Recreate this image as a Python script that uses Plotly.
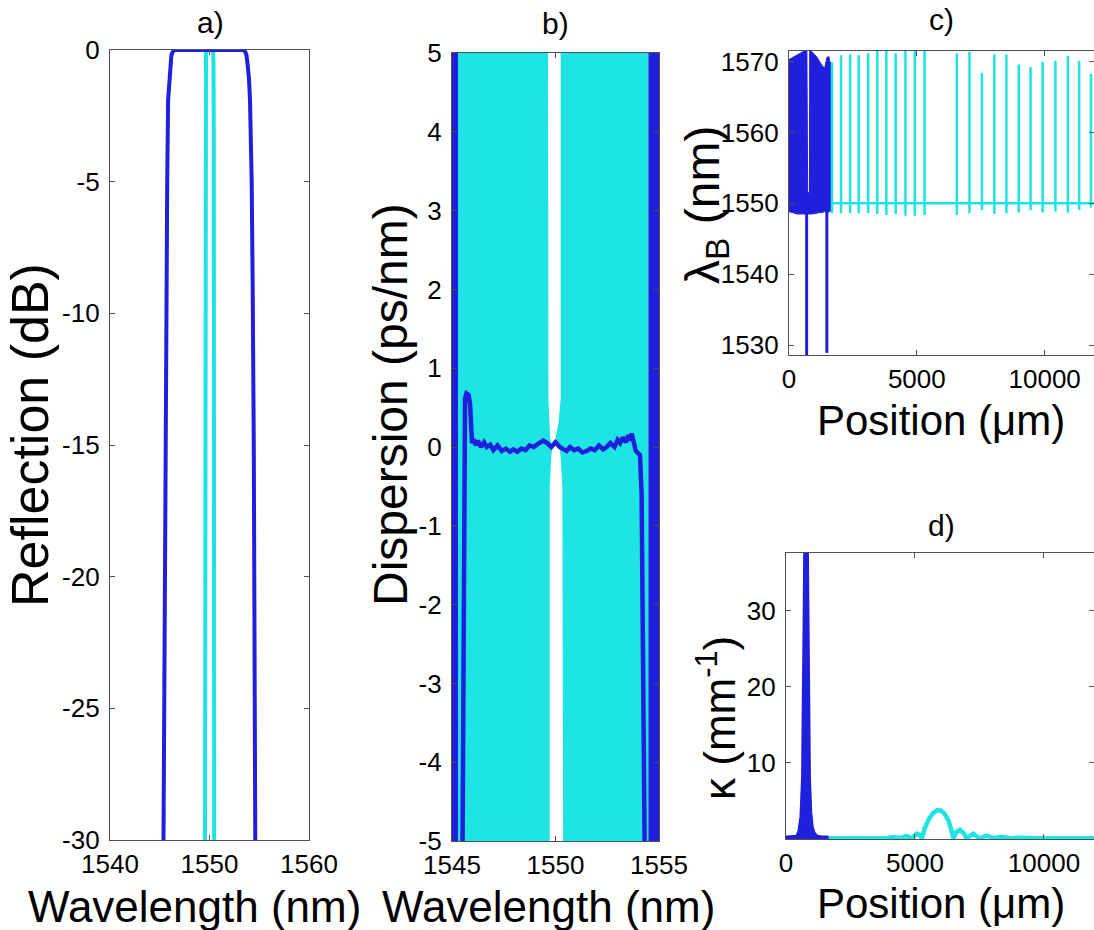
import plotly.graph_objects as go

W, H = 1094, 930
BLUE = "#2020dc"
CYAN = "#1ee4e4"
FONT = "Liberation Sans, Arial, sans-serif"

# ---------------- data ----------------
# a) reflection (dB) vs wavelength (nm)
a_blue_wl = [1545.30, 1545.36, 1545.45, 1545.55, 1545.65, 1545.75, 1545.84, 1545.95, 1546.07, 1546.17,
             1546.30, 1546.50, 1548.0, 1550.0, 1552.0, 1553.40, 1553.60, 1553.72, 1553.85, 1553.97,
             1554.07, 1554.16, 1554.24, 1554.34, 1554.45, 1554.60, 1554.66]
a_blue_db = [-35, -30, -22, -15, -9, -5, -1.9, -1.1, -0.63, -0.2,
             -0.07, 0, 0, 0, 0, 0, -0.07, -0.2, -0.63, -1.1,
             -1.9, -3.2, -5, -9, -15, -30, -35]
a_cyan_wl = [1549.53, 1549.55, 1549.57, 1549.60, 1549.65, 1550.0, 1550.35, 1550.40, 1550.43, 1550.45, 1550.47]
a_cyan_db = [-35, -15, -3, -0.5, 0, 0, 0, -0.5, -3, -15, -35]
a_xticks = [1540, 1550, 1560]
a_yticks = [-30, -25, -20, -15, -10, -5, 0]

# b) dispersion (ps/nm) vs wavelength (nm)
b_blue_edge_left = [1545.0, 1545.29]
b_blue_edge_right = [1554.48, 1555.0]
b_cyan_outer = [1545.29, 1554.48]
b_gap_y = [5.0, 0.6, 0.3, 0.12, 0.0, -0.1, -0.5, -5.0]
b_gap_left = [1549.64, 1549.66, 1549.70, 1549.74, 1549.85, 1549.80, 1549.72, 1549.72]
b_gap_right = [1550.25, 1550.25, 1550.14, 1550.00, 1550.18, 1550.24, 1550.33, 1550.37]
b_blue_wl = [1545.50, 1545.58, 1545.63, 1545.70, 1545.80, 1545.87, 1545.92, 1545.97, 1546.05, 1546.15,
             1546.25, 1546.40, 1546.55, 1546.68, 1546.85, 1547.00, 1547.20, 1547.40, 1547.60, 1547.80,
             1547.96, 1548.15, 1548.35, 1548.55, 1548.75, 1548.95, 1549.15, 1549.41, 1549.60, 1549.80,
             1550.00, 1550.20, 1550.40, 1550.54, 1550.70, 1550.90, 1551.10, 1551.30, 1551.51, 1551.70,
             1551.90, 1552.10, 1552.30, 1552.47, 1552.65, 1552.85, 1553.00, 1553.12, 1553.25, 1553.40,
             1553.52, 1553.60, 1553.68, 1553.76, 1553.88, 1554.00, 1554.08, 1554.16, 1554.24, 1554.32]
b_blue_d = [-5.5, -2.0, 0.62, 0.68, 0.66, 0.55, 0.15, 0.05, 0.10, 0.02,
            0.08, 0.00, 0.06, 0.00, 0.03, -0.04, 0.02, -0.05, -0.02, -0.06,
            -0.03, -0.06, -0.02, -0.04, 0.02, 0.00, 0.04, 0.08, 0.05, 0.00,
            0.06, 0.00, -0.03, -0.05, 0.00, -0.04, -0.02, -0.07, -0.05, -0.02,
            -0.04, 0.02, -0.03, 0.00, 0.05, 0.00, 0.09, 0.05, 0.12, 0.06,
            0.15, 0.08, 0.17, 0.06, -0.05, -0.08, -0.10, -0.6, -3.0, -5.5]
b_xticks = [1545, 1550, 1555]
b_yticks = [-5, -4, -3, -2, -1, 0, 1, 2, 3, 4, 5]

# c) Bragg wavelength (nm) vs position (um)
c_blue_pos = [0, 150, 300, 450, 600, 690, 700, 730, 800, 810, 900, 1000, 1100, 1200, 1300, 1400, 1480, 1560, 1600, 1650]
c_blue_top = [1570.3, 1570.6, 1570.8, 1571.1, 1571.5, 1571.5, 1571.5, 1551.5, 1551.5, 1571.5, 1571.4, 1571.0, 1570.6,
              1570.0, 1569.4, 1569.1, 1570.6, 1570.7, 1570.0, 1569.8]
c_blue_bot = [1548.8, 1548.7, 1548.5, 1548.4, 1548.4, 1548.4, 1548.4, 1548.5, 1548.5, 1548.5, 1548.5, 1548.6, 1548.6,
              1548.7, 1548.7, 1548.9, 1548.6, 1548.8, 1548.9, 1549.0]
c_blue_spike_pos = [690, 1480]
c_blue_spike_low = [1525.0, 1528.9]
c_cyan_base = 1550.0
c_cyan_pos = [1681, 2035, 2390, 2728, 3098, 3453, 3807, 4173, 4555, 4921, 5303, 6563, 7059, 7547, 8031,
              8504, 8988, 9449, 9921, 10421, 10906, 11350, 11811]
c_cyan_top = [1569.9, 1570.9, 1571.0, 1570.9, 1571.2, 1572.0, 1572.0, 1571.2, 1572.0, 1572.0, 1572.0, 1571.2,
              1571.4, 1568.4, 1571.0, 1571.0, 1569.6, 1569.2, 1570.0, 1570.1, 1570.8, 1570.1, 1568.3]
c_cyan_bot = [1548.6, 1548.6, 1548.6, 1548.6, 1548.6, 1548.5, 1548.35, 1548.5, 1548.25, 1548.25, 1548.35, 1548.35,
              1548.6, 1549.05, 1548.5, 1548.6, 1548.7, 1549.05, 1548.7, 1548.85, 1548.7, 1549.05, 1549.4]
c_cyan_end = 12000
c_xticks = [0, 5000, 10000]
c_yticks = [1530, 1540, 1550, 1560, 1570]

# d) coupling coefficient (1/mm) vs position (um)
d_blue_pos = [0, 300, 430, 520, 600, 660, 700, 730, 760, 780, 800, 820, 850, 890, 940, 1000, 1080, 1200, 1400, 1650]
d_blue_k = [0.2, 0.2, 0.3, 1.0, 3.0, 8.0, 18.0, 32.0, 45.0, 50.0, 46.0, 34.0, 18.0, 8.0, 3.5, 1.5, 0.7, 0.3, 0.2, 0.2]
d_cyan_pos = [1650, 3000, 3600, 3900, 4160, 4420, 4680, 4880, 5070, 5200, 5260, 5400, 5550, 5700, 5850, 5910,
              6000, 6150, 6300, 6420, 6485, 6600, 6744, 6880, 7000, 7260, 7500, 7780, 8050, 8360, 8700,
              9100, 10000, 12000]
d_cyan_k = [0.1, 0.1, 0.1, 0.1, 0.25, 0.1, 0.4, 0.1, 0.7, 0.5, 0.1, 1.6, 2.7, 3.4, 3.78, 3.8,
            3.75, 3.3, 2.4, 1.0, 0.1, 0.9, 1.2, 0.8, 0.1, 0.7, 0.1, 0.45, 0.1, 0.3, 0.1,
            0.18, 0.1, 0.1]
d_xticks = [0, 5000, 10000]
d_yticks = [10, 20, 30]

# ---------------- figure ----------------
fig = go.Figure()


def px_x(p):
    return p / W


def px_y(p):
    return 1 - p / H


def labels(vals):
    return [str(v) for v in vals]  # plain hyphen minus, as in the reference


# a)
fig.add_trace(go.Scatter(x=a_cyan_wl, y=a_cyan_db, mode="lines", line=dict(color=CYAN, width=4),
                         xaxis="x", yaxis="y", showlegend=False))
fig.add_trace(go.Scatter(x=a_blue_wl, y=a_blue_db, mode="lines", line=dict(color=BLUE, width=4),
                         xaxis="x", yaxis="y", showlegend=False))

# b) blue out-of-band fills
for edge in (b_blue_edge_left, b_blue_edge_right):
    fig.add_trace(go.Scatter(x=[edge[0], edge[1], edge[1], edge[0], edge[0]], y=[-5, -5, 5, 5, -5],
                             mode="lines", fill="toself", fillcolor=BLUE, line=dict(width=0, color=BLUE),
                             xaxis="x2", yaxis="y2", showlegend=False))
# b) cyan out-of-band fills (left and right of the central gap)
left_x = [b_cyan_outer[0]] + b_gap_left + [b_cyan_outer[0]]
left_y = [b_gap_y[0]] + b_gap_y + [b_gap_y[-1]]
fig.add_trace(go.Scatter(x=left_x, y=left_y, mode="lines", fill="toself", fillcolor=CYAN,
                         line=dict(width=0, color=CYAN), xaxis="x2", yaxis="y2", showlegend=False))
right_x = [b_cyan_outer[1]] + b_gap_right + [b_cyan_outer[1]]
right_y = [b_gap_y[0]] + b_gap_y + [b_gap_y[-1]]
fig.add_trace(go.Scatter(x=right_x, y=right_y, mode="lines", fill="toself", fillcolor=CYAN,
                         line=dict(width=0, color=CYAN), xaxis="x2", yaxis="y2", showlegend=False))
fig.add_trace(go.Scatter(x=b_blue_wl, y=b_blue_d, mode="lines", line=dict(color=BLUE, width=4.5),
                         xaxis="x2", yaxis="y2", showlegend=False))

# c) blue block (dense oscillation envelope)
fig.add_trace(go.Scatter(x=c_blue_pos + c_blue_pos[::-1], y=c_blue_top + c_blue_bot[::-1],
                         mode="lines", fill="toself", fillcolor=BLUE, line=dict(width=1, color=BLUE),
                         xaxis="x3", yaxis="y3", showlegend=False))
sx, sy = [], []
for p, lo in zip(c_blue_spike_pos, c_blue_spike_low):
    sx += [p, p, None]
    sy += [1550.0, lo, None]
fig.add_trace(go.Scatter(x=sx, y=sy, mode="lines", line=dict(color=BLUE, width=3),
                         xaxis="x3", yaxis="y3", showlegend=False))
cx, cy = [c_blue_pos[-1]], [c_cyan_base]
for p, t, b in zip(c_cyan_pos, c_cyan_top, c_cyan_bot):
    cx += [p, p, p, p]
    cy += [c_cyan_base, t, b, c_cyan_base]
cx.append(c_cyan_end)
cy.append(c_cyan_base)
fig.add_trace(go.Scatter(x=cx, y=cy, mode="lines", line=dict(color=CYAN, width=2.5),
                         xaxis="x3", yaxis="y3", showlegend=False))

# d)
fig.add_trace(go.Scatter(x=d_cyan_pos, y=d_cyan_k, mode="lines", line=dict(color=CYAN, width=4.5),
                         xaxis="x4", yaxis="y4", showlegend=False))
fig.add_trace(go.Scatter(x=d_blue_pos, y=d_blue_k, mode="lines", fill="tozeroy", fillcolor=BLUE,
                         line=dict(color=BLUE, width=4), xaxis="x4", yaxis="y4", showlegend=False))


def axis(domain, rng, ticks, anchor, is_x):
    return dict(domain=domain, range=rng, tickmode="array", tickvals=ticks, ticktext=labels(ticks),
                anchor=anchor, automargin=False, showgrid=False, zeroline=False, showline=True,
                linecolor="#505050", linewidth=1.2, mirror="ticks", ticks="inside", ticklen=5,
                tickcolor="#505050", ticklabelstandoff=(1 if is_x else 4),
                tickfont=dict(family=FONT, size=26, color="black"))


fig.update_layout(
    template="none",
    width=W, height=H, autosize=False,
    margin=dict(l=0, r=0, t=0, b=0, pad=0, autoexpand=False),
    paper_bgcolor="white", plot_bgcolor="white", showlegend=False,
    xaxis=axis([px_x(110), px_x(309)], [1540, 1560], a_xticks, "y", True),
    yaxis=axis([px_y(840), px_y(50)], [-30, 0], a_yticks, "x", False),
    xaxis2=axis([px_x(452), px_x(659)], [1545, 1555], b_xticks, "y2", True),
    yaxis2=axis([px_y(841), px_y(53)], [-5, 5], b_yticks, "x2", False),
    xaxis3=axis([px_x(789), 1.0], [0, 11930], c_xticks, "y3", True),
    yaxis3=axis([px_y(355), px_y(51)], [1528.6, 1571.5], c_yticks, "x3", False),
    xaxis4=axis([px_x(786), 1.0], [0, 11940], d_xticks, "y4", True),
    yaxis4=axis([px_y(839), px_y(553)], [0, 37.6], d_yticks, "x4", False),
)


def ann(text, x, y, size, angle=0):
    fig.add_annotation(text=text, x=px_x(x), y=px_y(y), xref="paper", yref="paper",
                       showarrow=False, textangle=angle, xanchor="center", yanchor="middle",
                       font=dict(family=FONT, size=size, color="black"))


# panel titles
ann("a)", 210, 22, 30)
ann("b)", 555, 23, 30)
ann("c)", 942, 20, 30)
ann("d)", 942, 525, 30)
# axis titles
ann("Wavelength (nm)", 194, 906, 44)
ann("Wavelength (nm)", 548, 906, 44)
ann("Position (μm)", 941, 420, 42)
ann("Position (μm)", 941, 903, 42)
ann("Reflection (dB)", 30, 435, 52, -90)
ann("Dispersion (ps/nm)", 390, 405, 48, -90)
ann("λ<sub>B</sub> (nm)", 706, 205, 48, -90)
ann("κ (mm<sup>-1</sup>)", 716, 718, 44, -90)

fig.write_html("out.html")
